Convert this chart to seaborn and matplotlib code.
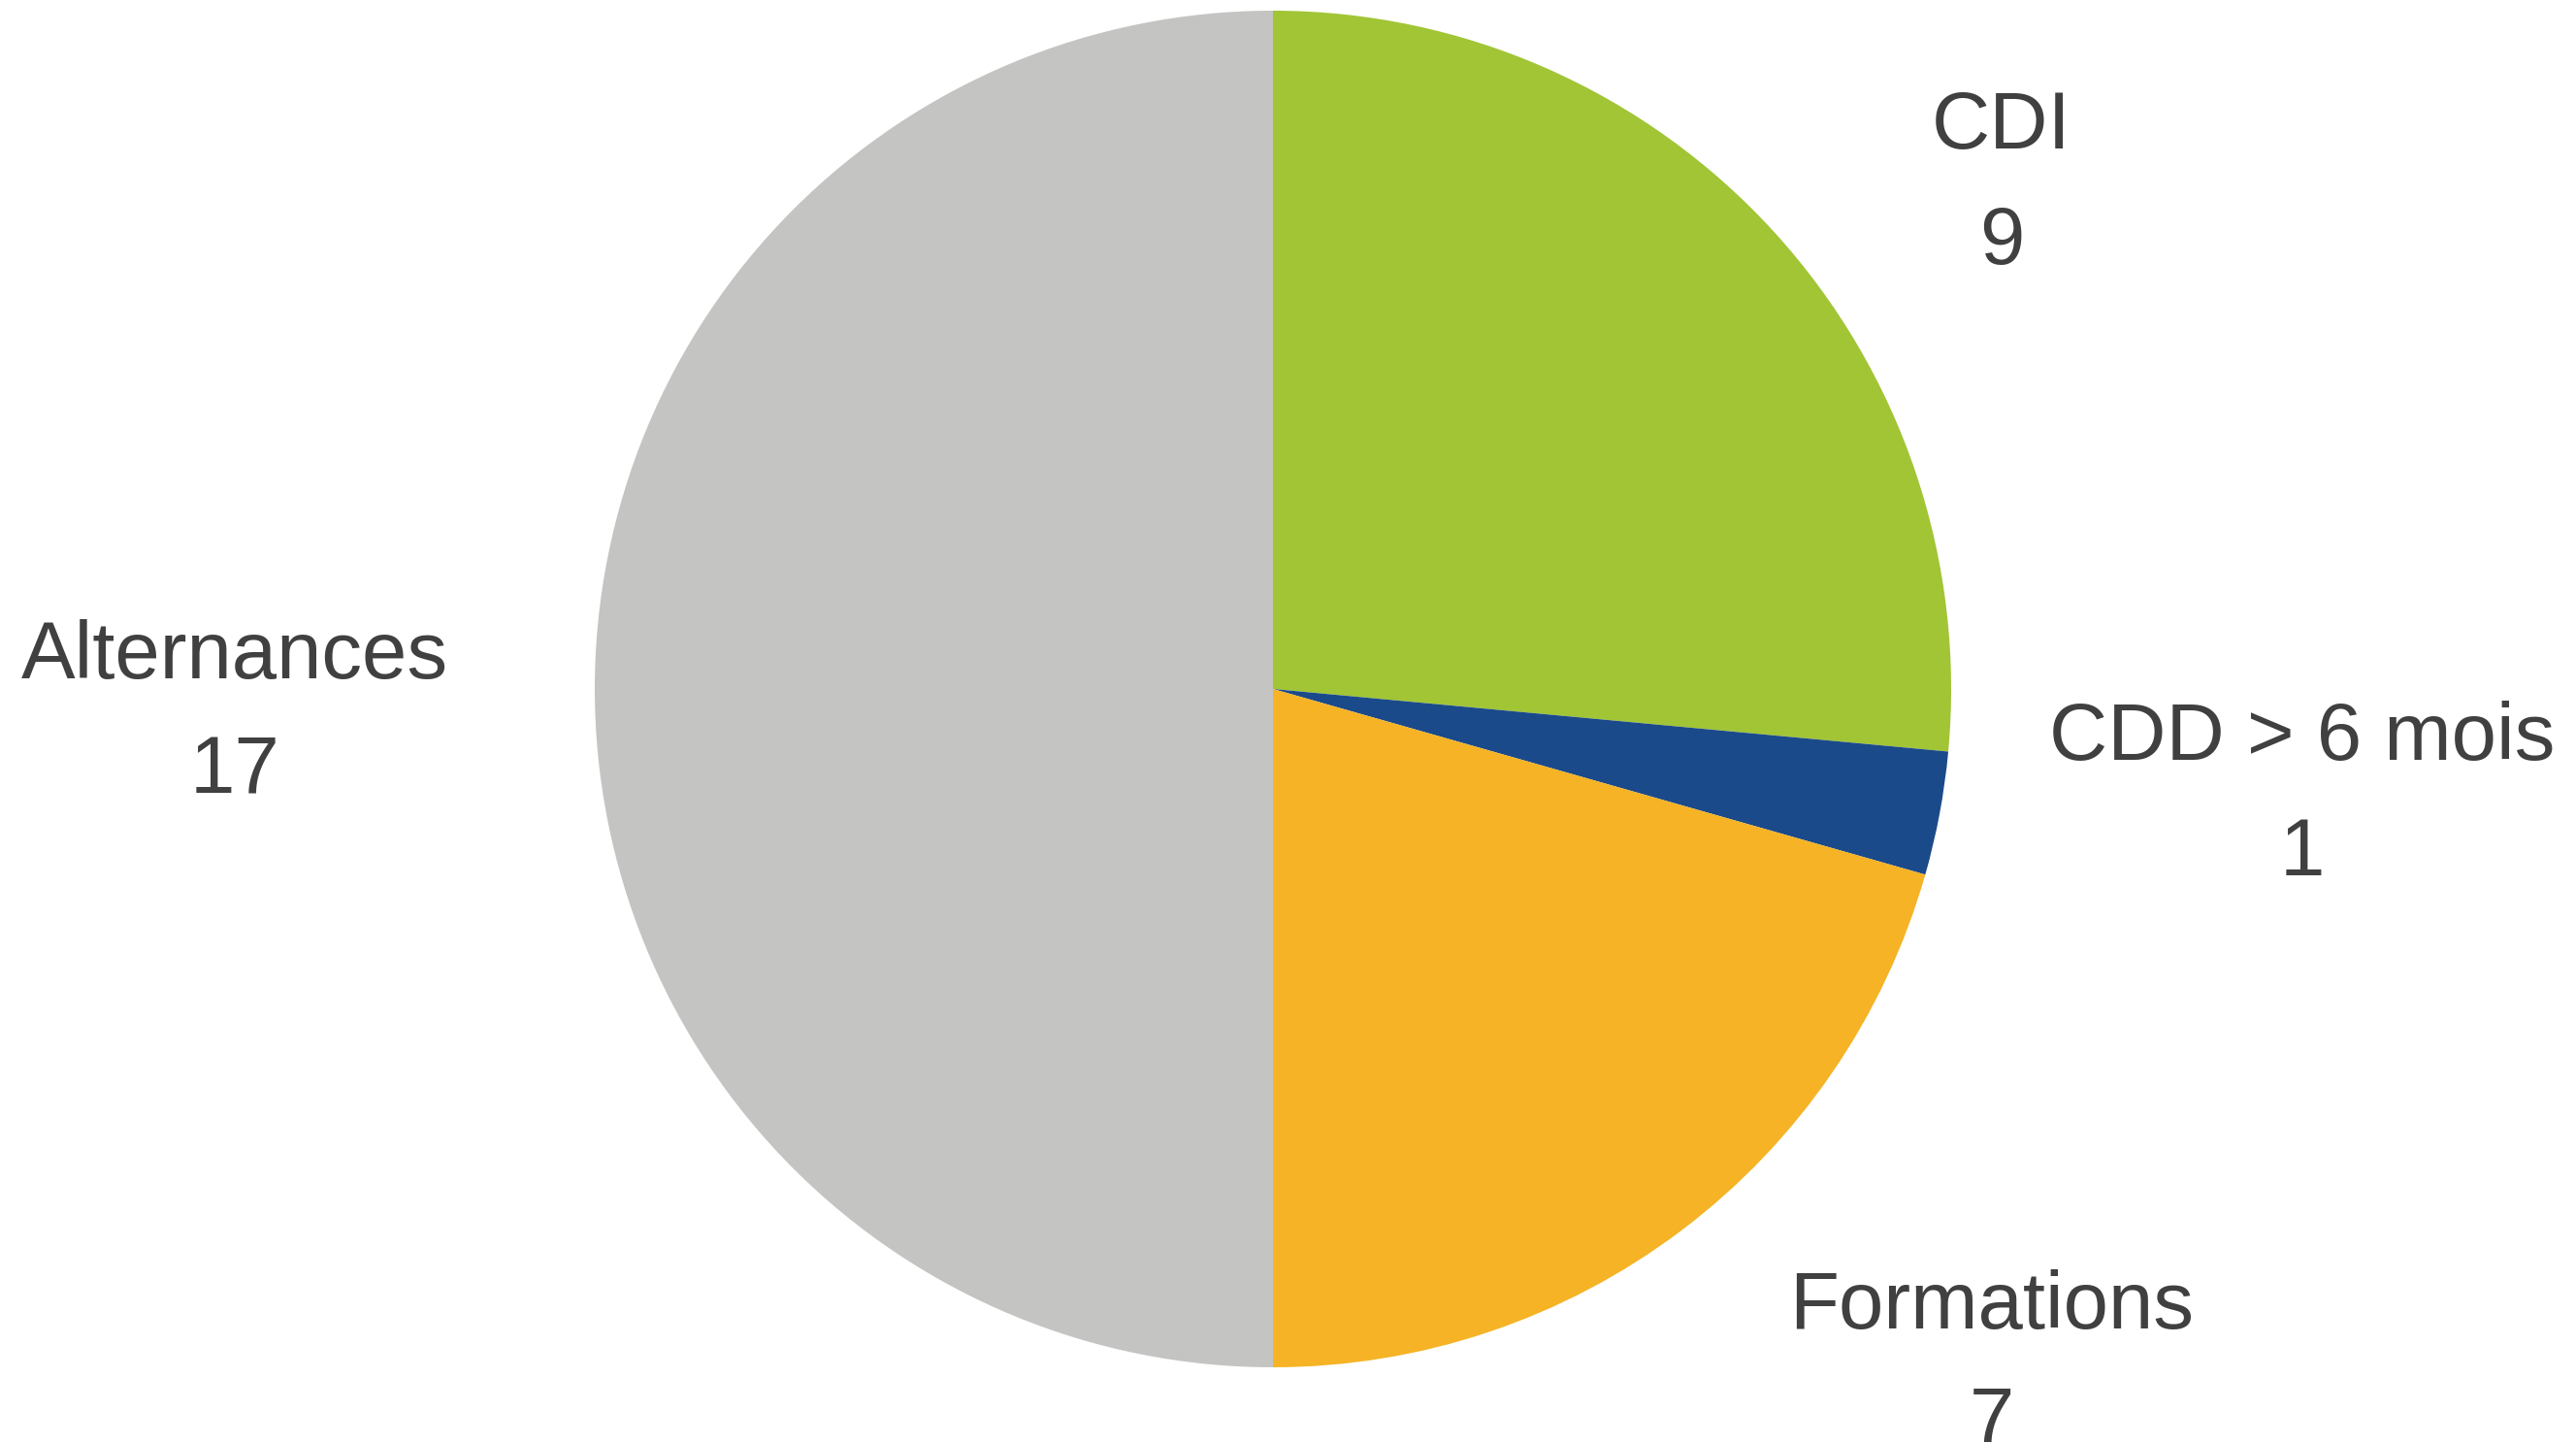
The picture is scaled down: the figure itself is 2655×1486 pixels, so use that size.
import matplotlib
matplotlib.use("Agg")
import matplotlib.pyplot as plt
import seaborn as sns

# Data
categories = ["CDI", "CDD > 6 mois", "Formations", "Alternances"]
values = [9, 1, 7, 17]
colors = ["#A1C535", "#1B4A8A", "#F5B325", "#C4C4C2"]

sns.set_style("white")
plt.rcParams['font.family'] = ['Liberation Sans', 'DejaVu Sans']

W, H = 2655, 1486
fig = plt.figure(figsize=(W / 100, H / 100), dpi=100)
ax = fig.add_axes([0, 0, 1, 1])

# pie in pixel-like coordinates (y measured from the bottom)
cx, cy, r = 1312, H - 710, 699
ax.pie(values, colors=colors, startangle=90, counterclock=False,
       center=(cx, cy), radius=r, wedgeprops=dict(linewidth=0))

ax.set_xlim(0, W)
ax.set_ylim(0, H)
ax.set_aspect('equal')
ax.axis('off')

# label anchors: (x centre, baseline of the value line from top)
label_pos = {
    "CDI": (2063, 272),
    "CDD > 6 mois": (2373, 902),
    "Formations": (2053, 1488),
    "Alternances": (242, 818),
}
for cat, val in zip(categories, values):
    x, y = label_pos[cat]
    ax.text(x, H - y, f"{cat}\n{val}", ha='center', va='baseline',
            fontsize=60, color='#404040', linespacing=1.68,
            multialignment='center')

fig.savefig("out.png", dpi=100)
